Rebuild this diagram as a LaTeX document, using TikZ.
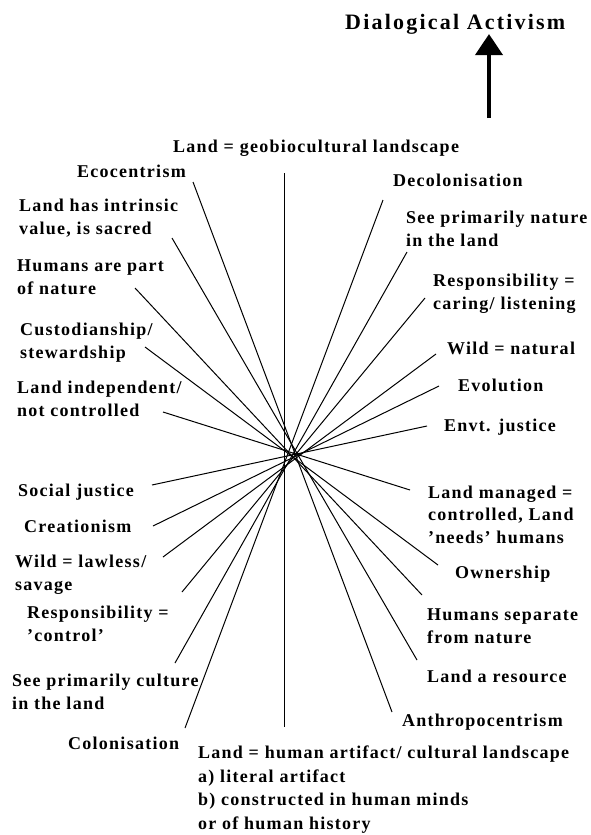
\documentclass[tikz,border=0pt]{standalone}
\usepackage{fontspec}
\usetikzlibrary{arrows.meta}
\newfontfamily\lblfont{Liberation Serif}[LetterSpace=7]
\newfontfamily\headfont{Liberation Serif}[LetterSpace=10]

\begin{document}
\begin{tikzpicture}[x=1pt,y=-1pt,
 lbl/.style={inner sep=0pt,anchor=base west,align=left,
  font=\lblfont\bfseries\fontsize{18}{22.5}\selectfont},
 ray/.style={line width=1pt}]
 \useasboundingbox (0,0) rectangle (590,835);
 % heading and arrow
 \node[inner sep=0pt,anchor=base west,font=\headfont\bfseries\fontsize{22}{26}\selectfont]
  (activism) at (345,29) {Dialogical Activism};
 \coordinate (foot) at (489,118);
 \draw[line width=4pt,-{Triangle[width=27pt,length=21pt]}] (foot) -- (activism.south -| foot);
 % left labels (base = last line)
 \node[lbl] (eco) at (77,177) {Ecocentrism};
 \node[lbl] (intr) at (19,234) {Land has intrinsic\\value, is sacred};
 \node[lbl] (part) at (17,294) {Humans are part\\of nature};
 \node[lbl] (cust) at (20,358) {Custodianship/\\stewardship};
 \node[lbl] (indep) at (17,416) {Land independent/\\not controlled};
 \node[lbl] (soc) at (18,496) {Social justice};
 \node[lbl] (crea) at (24,532) {Creationism};
 \node[lbl] (wildl) at (15,590) {Wild = lawless/\\savage};
 \node[lbl] (respc) at (27,641) {Responsibility =\\’control’};
 \node[lbl] (cult) at (12,709) {See primarily culture\\in the land};
 \node[lbl] (colo) at (68,749) {Colonisation};
 % right labels
 \node[lbl] (geo) at (173,152) {Land = geobiocultural landscape};
 \node[lbl] (deco) at (393,186) {Decolonisation};
 \node[lbl] (nat) at (406,246) {See primarily nature\\in the land};
 \node[lbl] (respk) at (433,309) {Responsibility =\\caring/ listening};
 \node[lbl] (wildn) at (447,354) {Wild = natural};
 \node[lbl] (evo) at (458,391) {Evolution};
 \node[lbl] (envt) at (444,431) {Envt. justice};
 \node[lbl] (manag) at (428,543) {Land managed =\\controlled, Land\\’needs’ humans};
 \node[lbl] (own) at (455,578) {Ownership};
 \node[lbl] (sep) at (427,643) {Humans separate\\from nature};
 \node[lbl] (res) at (427,682) {Land a resource};
 \node[lbl] (anthro) at (402,726) {Anthropocentrism};
 \node[lbl,font=\lblfont\bfseries\fontsize{18}{23.5}\selectfont] (art) at (198,829)
  {Land = human artifact/ cultural landscape\\a) literal artifact\\b) constructed in human minds\\or of human history};
 % ray ends
 \coordinate (eco-e) at (193,182);   \coordinate (anthro-e) at (392,712);
 \coordinate (intr-e) at (172,238);  \coordinate (res-e) at (417,660);
 \coordinate (part-e) at (135,288);  \coordinate (sep-e) at (422,595);
 \coordinate (cust-e) at (145,347);  \coordinate (own-e) at (438,565);
 \coordinate (indep-e) at (163,412); \coordinate (manag-e) at (410,490);
 \coordinate (soc-e) at (152,485);   \coordinate (envt-e) at (427,426);
 \coordinate (crea-e) at (153,526);  \coordinate (evo-e) at (439,386);
 \coordinate (wildl-e) at (163,557); \coordinate (wildn-e) at (436,354);
 \coordinate (respc-e) at (182,592); \coordinate (respk-e) at (425,298);
 \coordinate (cult-e) at (175,663);  \coordinate (nat-e) at (407,252);
 \coordinate (colo-e) at (185,728);  \coordinate (deco-e) at (383,200);
 \coordinate (geo-e) at (284.5,173); \coordinate (art-e) at (284.5,727);
 % rays
 \draw[ray] (eco-e) -- (anthro-e);
 \draw[ray] (intr-e) -- (res-e);
 \draw[ray] (part-e) -- (sep-e);
 \draw[ray] (cust-e) -- (own-e);
 \draw[ray] (indep-e) -- (manag-e);
 \draw[ray] (soc-e) -- (envt-e);
 \draw[ray] (crea-e) -- (evo-e);
 \draw[ray] (wildl-e) -- (wildn-e);
 \draw[ray] (respc-e) -- (respk-e);
 \draw[ray] (cult-e) -- (nat-e);
 \draw[ray] (colo-e) -- (deco-e);
 \draw[ray,line width=1.3pt] (geo-e) -- (art-e);
\end{tikzpicture}
\end{document}
